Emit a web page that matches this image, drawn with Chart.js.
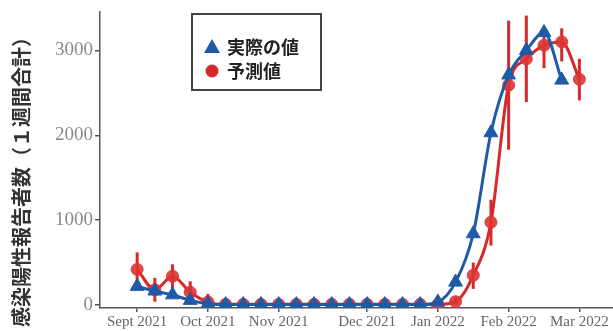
<!DOCTYPE html>
<html>
<head>
<meta charset="utf-8">
<script src="https://cdn.jsdelivr.net/npm/chart.js@4.4.0/dist/chart.umd.min.js"></script>
<style>
  html, body { margin: 0; padding: 0; background: #fff; }
  #wrap { width: 613px; height: 331px; }
</style>
</head>
<body>
<div id="wrap"><canvas id="chart" width="613" height="331"></canvas></div>
<script>
// x = week index, 0 = first week of Sept 2021
const tickWeeks = [0, 4, 8, 13, 17, 21, 25];
const tickLabels = ['Sept 2021', 'Oct 2021', 'Nov 2021', 'Dec 2021', 'Jan 2022', 'Feb 2022', 'Mar 2022'];
const yTicks = [0, 1000, 2000, 3000];
const yTitle = '感染陽性報告者数（１週間合計）';

// 実際の値 (weekly totals)
const actual = [220, 165, 120, 55, 15, 5, 5, 5, 5, 5, 5, 5, 5, 5, 5, 5, 5,
                35, 270, 840, 2030, 2710, 3000, 3210, 2650];
// 予測値 + interval
const predicted = [420, 180, 340, 150, 35, 8, 8, 8, 8, 8, 8, 8, 8, 8, 8, 8, 8, 8,
                   40, 350, 975, 2590, 2900, 3060, 3100, 2660];
const predLow  = [230, 40, 190, 30, 0, 0, 0, 0, 0, 0, 0, 0, 0, 0, 0, 0, 0, 0,
                  0, 190, 700, 1830, 2390, 2790, 2870, 2410];
const predHigh = [620, 320, 480, 280, 130, 20, 20, 20, 20, 20, 20, 20, 20, 20, 20, 20, 20, 20,
                  100, 500, 1240, 3350, 3410, 3220, 3260, 2900];

const blue = '#1f5aa6';
const red = '#d7282b';
const axisColor = '#555';

// vertical interval lines for the prediction
const errorBars = {
    id: 'errorBars',
    beforeDatasetsDraw(chart) {
        const { ctx, scales: { x, y } } = chart;
        ctx.save();
        ctx.strokeStyle = red;
        ctx.lineWidth = 3;
        predLow.forEach((lo, i) => {
            const px = x.getPixelForValue(i);
            ctx.beginPath();
            ctx.moveTo(px, y.getPixelForValue(lo));
            ctx.lineTo(px, y.getPixelForValue(predHigh[i]));
            ctx.stroke();
        });
        ctx.restore();
    }
};

// boxed legend inside the plot + rotated y title
const extras = {
    id: 'extras',
    afterDraw(chart) {
        const ctx = chart.ctx;
        ctx.save();
        ctx.fillStyle = '#fff';
        ctx.fillRect(192, 14, 129, 76);
        ctx.strokeStyle = '#444';
        ctx.lineWidth = 2;
        ctx.strokeRect(192, 14, 129, 76);

        // triangle
        ctx.fillStyle = blue;
        ctx.beginPath();
        ctx.moveTo(212, 39);
        ctx.lineTo(220, 53);
        ctx.lineTo(204, 53);
        ctx.closePath();
        ctx.fill();
        // circle
        ctx.fillStyle = red;
        ctx.beginPath();
        ctx.arc(212, 71, 6.5, 0, Math.PI * 2);
        ctx.fill();

        ctx.fillStyle = '#222';
        ctx.font = 'bold 18px "Noto Sans CJK JP"';
        ctx.textBaseline = 'middle';
        ctx.fillText('実際の値', 227, 47);
        ctx.fillText('予測値', 227, 71);

        // y axis title
        ctx.translate(21, 177);
        ctx.rotate(-Math.PI / 2);
        ctx.textAlign = 'center';
        ctx.fillStyle = '#333';
        ctx.font = 'bold 20px "Noto Sans CJK JP"';
        ctx.fillText(yTitle, 0, 0);
        ctx.restore();
    }
};

new Chart(document.getElementById('chart'), {
    type: 'line',
    data: {
        datasets: [
            {
                label: '実際の値',
                data: actual.map((v, i) => ({ x: i, y: v })),
                borderColor: blue,
                backgroundColor: blue,
                borderWidth: 3,
                pointStyle: 'triangle',
                pointRadius: 8,
                pointBackgroundColor: blue,
                pointBorderColor: blue,
                pointBorderWidth: 1,
                cubicInterpolationMode: 'monotone',
                order: 0
            },
            {
                label: '予測値',
                data: predicted.map((v, i) => ({ x: i, y: v })),
                borderColor: red,
                backgroundColor: red,
                borderWidth: 3,
                pointStyle: 'circle',
                pointRadius: 6,
                pointBackgroundColor: 'rgba(222,52,52,0.9)',
                pointBorderColor: 'rgba(222,52,52,0.9)',
                pointBorderWidth: 1,
                cubicInterpolationMode: 'monotone',
                order: 1
            }
        ]
    },
    options: {
        responsive: false,
        animation: false,
        layout: { autoPadding: false, padding: { top: 12, right: 0, left: 0, bottom: 0 } },
        plugins: {
            legend: { display: false },
            tooltip: { enabled: false }
        },
        scales: {
            x: {
                type: 'linear',
                min: -2.1,
                max: 26.9,
                afterBuildTicks: (s) => { s.ticks = tickWeeks.map(v => ({ value: v })); },
                afterFit: (s) => { s.height = 23; s.paddingLeft = 0; s.paddingRight = 0; },
                ticks: {
                    callback: (v) => tickLabels[tickWeeks.indexOf(v)],
                    font: { family: 'Liberation Serif', size: 15 },
                    color: '#666',
                    padding: 1,
                    maxRotation: 0,
                    autoSkip: false
                },
                grid: { drawOnChartArea: false, tickLength: 4, color: axisColor, lineWidth: 1.5 },
                border: { color: axisColor, width: 1.5 }
            },
            y: {
                min: -35,
                max: 3452,
                afterBuildTicks: (s) => { s.ticks = yTicks.map(v => ({ value: v })); },
                afterFit: (s) => { s.width = 100; s.paddingTop = 0; s.paddingBottom = 0; },
                ticks: {
                    callback: (v) => String(v),
                    font: { family: 'Liberation Serif', size: 19 },
                    color: '#8a8a8a',
                    padding: 2
                },
                grid: { drawOnChartArea: false, tickLength: 5, color: axisColor, lineWidth: 1.5 },
                border: { color: axisColor, width: 1.5 }
            }
        }
    },
    plugins: [errorBars, extras]
});
</script>
</body>
</html>
